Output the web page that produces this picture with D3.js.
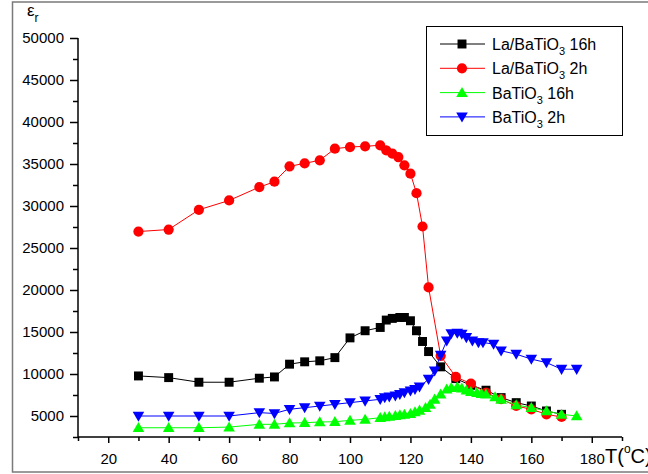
<!DOCTYPE html>
<html>
<head>
<meta charset="utf-8">
<script src="https://cdn.jsdelivr.net/npm/d3@7"></script>
<style>
  body { margin: 0; background: #fff; }
  svg { display: block; font-family: "Liberation Sans", Arial, sans-serif; }
</style>
</head>
<body>
<div id="chart"></div>
<script>
// La/BaTiO3 16h
let la16T = [30,40,50,60,70,75,80,85,90,95,100,105,110,112,114,116.5,118,120,122,124,126,130,135,140,145,150,155,160,165,170];
let la16E = [9770,9570,9020,9020,9500,9650,11170,11450,11570,11950,14300,15150,15540,16420,16620,16730,16730,16340,15150,13870,12670,10850,9450,8650,8070,7190,6590,6190,5600,5200];
// La/BaTiO3 2h
let la2T = [30,40,50,60,70,75,80,85,90,95,100,105,110,112,114,116,118,120,122,124,126,130,135,140,145,150,155,160,165,170];
let la2E = [26960,27200,29550,30660,32250,32890,34720,35080,35440,36830,37020,37110,37230,36630,36240,35830,34840,33850,31530,27560,20310,12160,9650,8850,7780,7000,6190,5800,5200,4880];
// BaTiO3 16h
let ba16T = [30,40,50,60,70,75,80,85,90,95,100,105,110,111.5,113,115,116.5,118,120,121.5,123,125,126.5,128,130,132,133.5,135.5,137,138.5,140,142,143.5,145,148,150,155,160,165,170,175];
let ba16E = [3600,3600,3600,3680,4010,4010,4165,4200,4285,4320,4480,4600,4800,4880,4960,5040,5120,5200,5280,5480,5680,5990,6390,6990,7590,8190,8380,8460,8300,8070,7900,7780,7660,7590,7270,6990,6310,5990,5600,5200,5000];
// BaTiO3 2h
let ba2T = [30,40,50,60,70,75,80,85,90,95,100,105,110,111.5,113,115,116.5,118,120,121.5,123,126,128,130,132,133.5,135.5,137,138.5,140.5,142.5,144,147.5,150,155,160,165,170,175];
let ba2E = [5000,5000,5000,5000,5400,5300,5800,5990,6190,6390,6590,6790,6990,7180,7270,7390,7590,7780,7985,8180,8460,9380,10370,12260,13950,14820,14870,14750,14350,13950,13750,13750,13560,12760,12360,11770,11360,10570,10570];

let xMajor = [20,40,60,80,100,120,140,160,180];
let xMinor = [10,30,50,70,90,110,130,150,170,190];
let yMajor = [5000,10000,15000,20000,25000,30000,35000,40000,45000,50000];
let yMinor = [2500,7500,12500,17500,22500,27500,32500,37500,42500,47500];

let series = [
  {name: "La/BaTiO", tail: " 16h", T: la16T, E: la16E, color: "#000000", shape: "square"},
  {name: "La/BaTiO", tail: " 2h", T: la2T, E: la2E, color: "#ff0000", shape: "circle"},
  {name: "BaTiO", tail: " 16h", T: ba16T, E: ba16E, color: "#00ff00", shape: "up"},
  {name: "BaTiO", tail: " 2h", T: ba2T, E: ba2E, color: "#0000ff", shape: "down"}
];

let width = 648, height = 474;
let svg = d3.select("#chart").append("svg")
    .attr("width", width)
    .attr("height", height);

// outer frame
svg.append("rect")
   .attr("x", 12.5).attr("y", 2)
   .attr("width", 700).attr("height", 470)
   .attr("fill", "none")
   .attr("stroke", "#7a7a7a")
   .attr("stroke-width", 1.5);

let x = d3.scaleLinear().domain([10, 190]).range([78, 622]);
let y = d3.scaleLinear().domain([2500, 50000]).range([437, 38]);

function marker(shape) {
    if (shape == "square") return d3.symbol().type(d3.symbolSquare).size(80)();
    if (shape == "circle") return d3.symbol().type(d3.symbolCircle).size(82)();
    return d3.symbol().type(d3.symbolTriangle).size(58)();
}
function markerTransform(shape, px, py) {
    let t = "translate(" + px + "," + py + ")";
    if (shape == "up") t += " translate(0,1)";
    if (shape == "down") t += " rotate(180) translate(0,1)";
    return t;
}

// axes
let xAxis = svg.append("g")
    .attr("transform", "translate(0,437)")
    .call(d3.axisBottom(x).tickValues(xMajor).tickSize(6).tickPadding(10).tickFormat(d3.format("d")));
let xAxisMinor = svg.append("g")
    .attr("transform", "translate(0,437)")
    .call(d3.axisBottom(x).tickValues(xMinor).tickSize(4).tickFormat(""));
let yAxis = svg.append("g")
    .attr("transform", "translate(78,0)")
    .call(d3.axisLeft(y).tickValues(yMajor).tickSize(8).tickPadding(6).tickFormat(d3.format("d")));
let yAxisMinor = svg.append("g")
    .attr("transform", "translate(78,0)")
    .call(d3.axisLeft(y).tickValues(yMinor).tickSize(5).tickFormat(""));

[xAxis, xAxisMinor, yAxis, yAxisMinor].forEach(g => {
    g.select(".domain").attr("stroke-width", 1.5);
    g.selectAll(".tick line").attr("stroke-width", 1.5);
    g.selectAll(".tick text").attr("font-size", "15px").attr("fill", "#000")
     .style("font-family", "'Liberation Sans', Arial, sans-serif");
});
xAxis.select(".domain").remove();
yAxis.select(".domain").remove();
xAxisMinor.select(".domain").attr("d", "M78,0H622");
yAxisMinor.select(".domain").attr("d", "M0,437V38");

// axis titles
let yt = svg.append("text").attr("x", 27).attr("y", 16).attr("font-size", "17px");
yt.append("tspan").text("ε");
yt.append("tspan").attr("font-size", "12px").attr("dy", 6).text("r");

let xt = svg.append("text").attr("x", 605).attr("y", 463).attr("font-size", "20px");
xt.append("tspan").text("T(");
xt.append("tspan").attr("font-size", "12px").attr("dy", -10).text("o");
xt.append("tspan").attr("dy", 10).text("C)");

// series
let line = d3.line().x(d => x(d[0])).y(d => y(d[1]));
series.forEach(s => {
    let pts = s.T.map((t, i) => [t, s.E[i]]);
    let g = svg.append("g");
    g.append("path")
     .datum(pts)
     .attr("d", line)
     .attr("fill", "none")
     .attr("stroke", s.color)
     .attr("stroke-width", 1);
    g.selectAll("path.pt")
     .data(pts)
     .enter()
     .append("path")
     .attr("class", "pt")
     .attr("d", marker(s.shape))
     .attr("transform", d => markerTransform(s.shape, x(d[0]), y(d[1])))
     .attr("fill", s.color);
});

// legend
let legend = svg.append("g");
legend.append("rect")
      .attr("x", 426.5).attr("y", 26.5)
      .attr("width", 196).attr("height", 109)
      .attr("fill", "#fff")
      .attr("stroke", "#000")
      .attr("stroke-width", 1);
series.forEach((s, i) => {
    let ry = 44 + i * 24.3;
    legend.append("line")
          .attr("x1", 440).attr("x2", 485)
          .attr("y1", ry).attr("y2", ry)
          .attr("stroke", s.color).attr("stroke-width", 1);
    legend.append("path")
          .attr("d", marker(s.shape))
          .attr("transform", markerTransform(s.shape, 462, ry))
          .attr("fill", s.color);
    let t = legend.append("text")
          .attr("x", 492).attr("y", ry + 6)
          .attr("font-size", "16px");
    t.append("tspan").text(s.name);
    t.append("tspan").attr("font-size", "11px").attr("dy", 5).text("3");
    t.append("tspan").attr("dy", -5).text(s.tail);
});
</script>
</body>
</html>
